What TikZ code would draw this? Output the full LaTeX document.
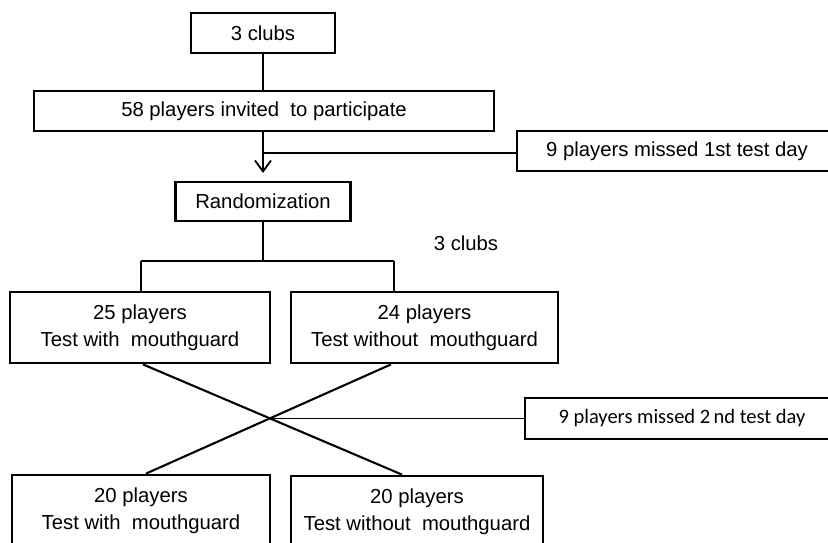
\documentclass[tikz,border=0pt]{standalone}
\usepackage{fontspec}
\setmainfont{Liberation Sans}
\newfontfamily\arialf{Liberation Sans}
\newfontfamily\calib{Carlito}
\usetikzlibrary{arrows.meta}
\begin{document}
\begin{tikzpicture}[x=1pt,y=-1pt,
  box/.style={draw,line width=2.8pt,rectangle,inner sep=0pt,align=center,
    font=\arialf\fontsize{20.3}{27.5}\selectfont},
  conn/.style={line width=1.6pt},
  crossline/.style={line width=2.1pt}]
\clip (0,0) rectangle (828,543);
\fill[white] (0,0) rectangle (828,543);
\node[box,minimum width=144pt,minimum height=40pt] (c3) at (263,33) {3 clubs};
\node[box,minimum width=460pt,minimum height=40pt] (p58) at (264,111) {58 players invited\ \ to participate};
\node[box,minimum width=320pt,minimum height=40pt] (miss1) at (677,151) {9 players missed 1st test day};
\node[box,minimum width=175pt,minimum height=39pt] (rand) at (263,201.5) {Randomization};
\node[font=\arialf\fontsize{20.3}{24}\selectfont] (clubs) at (466,243) {3 clubs};
\node[box,minimum width=260pt,minimum height=71pt] (a1) at (140,327.5) {25 players\\Test with\ \ mouthguard};
\node[box,minimum width=267pt,minimum height=71pt] (b1) at (424.5,327.5) {24 players\\Test without\ \ mouthguard};
\node[box,minimum width=258pt,minimum height=71pt] (a2) at (141,510.5) {20 players\\Test with\ \ mouthguard};
\node[box,minimum width=252pt,minimum height=71pt] (b2) at (417,511.5) {20 players\\Test without\ \ mouthguard};
\node[box,minimum width=314pt,minimum height=41pt,font=\calib\fontsize{20.5}{24}\selectfont] (miss2) at (682,418.5) {9 players missed 2\,nd test day};
% top connectors
\draw[conn] (c3.south) -- (c3.south |- p58.north);
\coordinate (b153) at (263,153);
\draw[conn,-{Straight Barb[length=11pt,width=16pt,line width=1.8pt]},shorten >=9pt] (263,131) -- (263,182);
\draw[conn] (b153) -- (miss1.west |- b153);
\coordinate (split) at (263,261);
\coordinate (ja) at (141,261);
\coordinate (jb) at (394,261);
\draw[conn] (rand.south) -- (split);
\draw[conn] (ja) -- (jb);
\draw[conn] (ja) -- (ja |- a1.north);
\draw[conn] (jb) -- (jb |- b1.north);
% cross
\draw[crossline] ([xshift=3pt]a1.south) -- ([xshift=-15pt]b2.north);
\draw[crossline] ([xshift=-33.5pt]b1.south) -- ([xshift=5pt]a2.north);
\coordinate (cross) at (271,418.5);
\draw[conn] (cross) -- (miss2.west);
\end{tikzpicture}
\end{document}
